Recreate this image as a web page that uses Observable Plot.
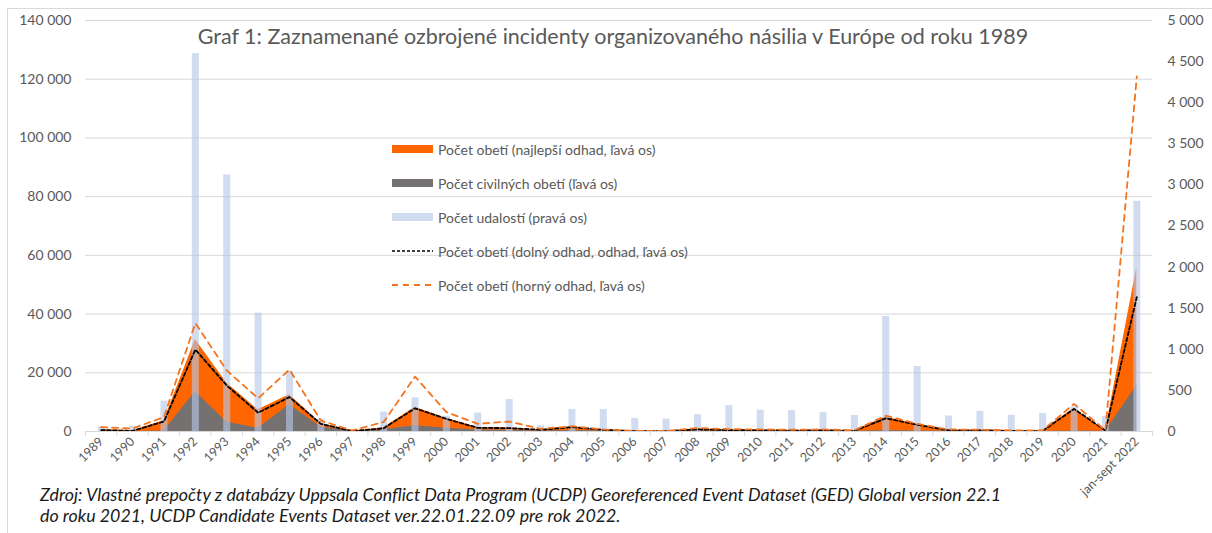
<!DOCTYPE html>
<html>
<head>
<meta charset="utf-8">
<script src="https://cdn.jsdelivr.net/npm/d3@7"></script>
<script src="https://cdn.jsdelivr.net/npm/@observablehq/plot@0.6"></script>
<style>
  html, body { margin: 0; padding: 0; background: #fff; }
  body { width: 1212px; height: 533px; position: relative; overflow: hidden; font-family: Lato, sans-serif; }
  #frame { position: absolute; left: 7px; top: 8px; width: 1230px; height: 560px; border: 1px solid #d9d9d9; box-sizing: border-box; }
  #chart { position: absolute; left: 0; top: 0; }
  #title { position: absolute; left: 0; width: 1226px; top: 23px; text-align: center; font-size: 21.5px; color: #595959; white-space: nowrap; }
  #legend { position: absolute; left: 392px; top: 140px; font-size: 14px; color: #595959; }
  .item { position: absolute; left: 0; height: 18px; white-space: nowrap; display: flex; align-items: center; }
  .item svg { margin-right: 5px; }
  #caption { position: absolute; left: 40px; top: 484px; font-size: 17.8px; font-style: italic; color: #1a1a1a; line-height: 21px; white-space: nowrap; }
</style>
</head>
<body>
<div id="frame"></div>
<div id="chart"></div>
<div id="title">Graf 1: Zaznamenané ozbrojené incidenty organizovaného násilia v Európe od roku 1989</div>
<div id="legend"></div>
<div id="caption">Zdroj: Vlastné prepočty z databázy Uppsala Conflict Data Program (UCDP) Georeferenced Event Dataset (GED) Global version 22.1<br>do roku 2021, UCDP Candidate Events Dataset ver.22.01.22.09 pre rok 2022.</div>
<script>
const categories = ["1989","1990","1991","1992","1993","1994","1995","1996","1997","1998","1999","2000","2001","2002","2003","2004","2005","2006","2007","2008","2009","2010","2011","2012","2013","2014","2015","2016","2017","2018","2019","2020","2021","jan-sept 2022"];

// Počet obetí (najlepší odhad) – left axis
const best = [700,300,3700,31300,16500,7400,12500,2800,200,1300,8300,4500,1400,1300,600,1600,600,150,150,900,600,500,400,500,300,4900,2400,500,500,300,300,7900,300,55800];
// Počet civilných obetí – left axis
const civilians = [0,0,200,13600,3200,1100,9100,1500,100,700,2000,1100,500,400,200,300,200,50,50,200,150,100,100,100,50,300,200,100,100,50,50,200,50,15700];
// Počet udalostí – right axis
const events = [55,65,370,4600,3120,1440,730,155,20,235,410,185,225,390,70,268,268,160,150,205,315,260,255,230,195,1400,790,188,245,198,220,300,185,2800];
// Počet obetí (dolný odhad) – left axis
const low = [500,200,3400,27900,15700,6400,11700,2600,100,1100,7900,4300,1250,1150,580,1500,580,100,100,700,500,400,300,400,200,4500,2300,400,400,200,200,7700,300,45800];
// Počet obetí (horný odhad) – left axis
const high = [1500,1000,4900,36900,20800,11300,21100,3700,400,3200,18700,6600,2600,3400,900,1800,700,200,200,1200,800,700,600,700,400,5400,2600,700,600,400,400,9400,400,121000];

const leftTicks = [0,20000,40000,60000,80000,100000,120000,140000];
const rightTicks = [0,500,1000,1500,2000,2500,3000,3500,4000,4500,5000];
const leftMax = 140000, rightMax = 5000;
const ratio = leftMax / rightMax;

const legendLabels = [
  "Počet obetí (najlepší odhad, ľavá os)",
  "Počet civilných obetí (ľavá os)",
  "Počet udalostí (pravá os)",
  "Počet obetí (dolný odhad, odhad, ľavá os)",
  "Počet obetí (horný odhad, ľavá os)"
];

const C = { best: "#ff6600", civ: "#767171", ev: "#b4c7e7", low: "#000000", high: "#f4731f" };

const fmt = d3.formatLocale({decimal: ",", thousands: " ", grouping: [3], currency: ["", ""]}).format(",d");

const rows = categories.map((c, i) => ({
  i, c, best: best[i], civ: civilians[i], ev: events[i] * ratio, low: low[i], high: high[i]
}));
const centers = categories.map((_, i) => i);
const boundaries = d3.range(categories.length + 1).map(i => i - 0.5);

const chart = Plot.plot({
  width: 1212,
  height: 470,
  marginTop: 20,
  marginBottom: 39,
  marginLeft: 85,
  marginRight: 60,
  style: { fontFamily: "Lato, sans-serif", fontSize: "14px", color: "#595959", background: "transparent", overflow: "visible" },
  x: { type: "linear", domain: [-0.5, categories.length - 0.5] },
  y: { domain: [0, leftMax] },
  marks: [
    Plot.gridY(leftTicks, { stroke: "#d9d9d9", strokeOpacity: 1, strokeWidth: 1 }),
    Plot.areaY(rows, { x: "i", y: "best", fill: C.best }),
    Plot.areaY(rows, { x: "i", y: "civ", fill: C.civ }),
    Plot.ruleX(rows, { x: "i", y1: 0, y2: "ev", stroke: C.ev, strokeOpacity: 0.62, strokeWidth: 7 }),
    Plot.lineY(rows, { x: "i", y: "low", stroke: C.low, strokeWidth: 1.8, strokeDasharray: "3.5,2.5" }),
    Plot.lineY(rows, { x: "i", y: "high", stroke: C.high, strokeWidth: 1.8, strokeDasharray: "6,5" }),
    Plot.ruleY([0], { stroke: "#d9d9d9" }),
    Plot.axisY({ ticks: leftTicks, tickSize: 0, tickPadding: 14, tickFormat: fmt, label: null }),
    Plot.axisY({ anchor: "right", ticks: rightTicks.map(v => v * ratio), tickSize: 0, tickPadding: 15, tickFormat: d => fmt(Math.round(d / ratio)), label: null }),
    Plot.axisX({ ticks: boundaries, tickSize: 5, tickFormat: () => "", stroke: "#d9d9d9", label: null }),
    Plot.axisX({ ticks: centers, tickSize: 0, tickPadding: 8, tickRotate: -45, tickFormat: i => categories[i], fontSize: 12.5, label: null })
  ]
});
document.getElementById("chart").appendChild(chart);

// Legend
const legend = document.getElementById("legend");
const swatches = [
  `<svg width="41" height="10"><rect x="0" y="1" width="41" height="8" fill="${C.best}"/></svg>`,
  `<svg width="41" height="10"><rect x="0" y="1" width="41" height="8" fill="${C.civ}"/></svg>`,
  `<svg width="41" height="10"><rect x="0" y="1" width="41" height="8" fill="${C.ev}" fill-opacity="0.62"/></svg>`,
  `<svg width="41" height="10"><line x1="0" x2="41" y1="5" y2="5" stroke="${C.low}" stroke-width="1.5" stroke-dasharray="3,2"/></svg>`,
  `<svg width="41" height="10"><line x1="0" x2="41" y1="5" y2="5" stroke="${C.high}" stroke-width="1.8" stroke-dasharray="6,5"/></svg>`
];
legendLabels.forEach((lab, k) => {
  const d = document.createElement("div");
  d.className = "item";
  d.style.top = (k * 34) + "px";
  d.innerHTML = swatches[k] + `<span>${lab}</span>`;
  legend.appendChild(d);
});
</script>
</body>
</html>
